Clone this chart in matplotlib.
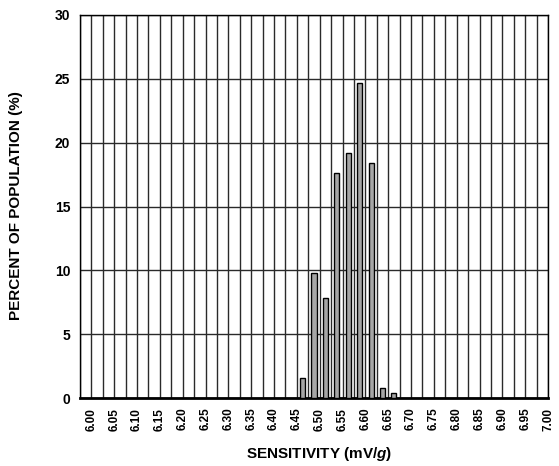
import numpy as np
import matplotlib
matplotlib.use("Agg")
import matplotlib.pyplot as plt
from matplotlib.ticker import MultipleLocator

plt.rcParams['font.family'] = ['Liberation Sans', 'DejaVu Sans']
plt.rcParams['font.weight'] = 'bold'
plt.rcParams['mathtext.fontset'] = 'custom'
plt.rcParams['mathtext.it'] = 'Liberation Sans:italic:bold'
plt.rcParams['mathtext.rm'] = 'Liberation Sans:bold'

# bin centres (mV/g) and percent of population
bin_centers = [6.4625, 6.4875, 6.5125, 6.5375, 6.5625, 6.5875, 6.6125, 6.6375, 6.6625]
percent = [1.6, 9.8, 7.8, 17.6, 19.2, 24.7, 18.4, 0.8, 0.4]
x_ticks = [6.00, 6.05, 6.10, 6.15, 6.20, 6.25, 6.30, 6.35, 6.40, 6.45, 6.50,
           6.55, 6.60, 6.65, 6.70, 6.75, 6.80, 6.85, 6.90, 6.95, 7.00]

fig = plt.figure(figsize=(5.59, 4.66), dpi=100)
ax = fig.add_axes([80/559, 1-398/466, 468/559, 383/466])

ax.set_xlim(5.975, 7.0)
ax.set_ylim(0, 30)

ax.xaxis.set_minor_locator(MultipleLocator(0.025))
ax.set_xticks(x_ticks)
ax.set_xticklabels(["%.2f" % t for t in x_ticks], rotation=90, fontsize=8.5, fontweight='bold')
ax.set_yticks(range(0, 31, 5))
ax.set_yticklabels([str(v) for v in range(0, 31, 5)], fontsize=10, fontweight='bold')

ax.grid(True, which='both', axis='x', color='#2a2a2a', lw=1.0)
ax.grid(True, which='major', axis='y', color='#2a2a2a', lw=1.0)
ax.set_axisbelow(True)
ax.tick_params(which='both', length=0, pad=7)

ax.bar(bin_centers, percent, width=0.011, color='#a6a6a6', edgecolor='black', lw=1.0, zorder=3)

for s in ax.spines.values():
    s.set_color('black')
    s.set_linewidth(1.0)
ax.spines['bottom'].set_linewidth(2.0)

fig.text(16/559, 1-206/466, 'PERCENT OF POPULATION (%)', rotation=90, ha='center', va='center',
         fontsize=11, fontweight='bold')
fig.text(319/559, 1-454/466, 'SENSITIVITY (mV/$\\mathit{g}$)', ha='center', va='center',
         fontsize=11, fontweight='bold')

fig.savefig('out.png', dpi=100)
